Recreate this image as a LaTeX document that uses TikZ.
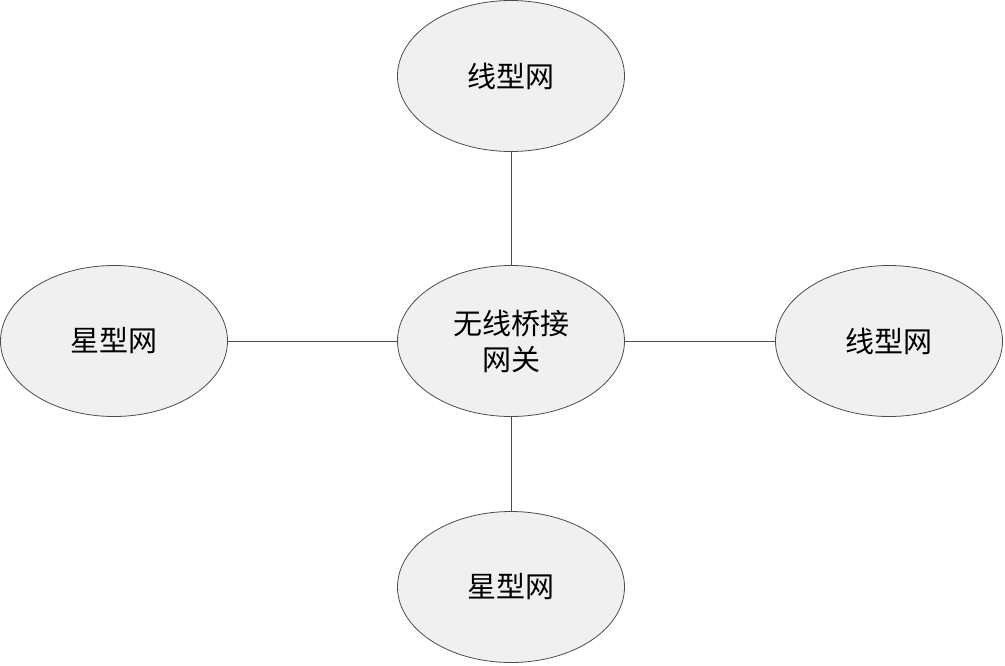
\documentclass[tikz,border=0pt]{standalone}
\usepackage{fontspec}
\newfontfamily\cjk{Noto Sans CJK SC}
\usetikzlibrary{shapes.geometric}
\begin{document}
\begin{tikzpicture}[x=1pt,y=-1pt,
  el/.style={ellipse,draw=black!70,line width=0.8pt,fill=black!6,minimum width=227pt,minimum height=151pt,inner sep=0pt,font=\cjk\fontsize{29}{36}\selectfont,align=center},
  ln/.style={draw=black!70,line width=0.8pt}]
\useasboundingbox (0,0) rectangle (1005,665);
\node[el] (c) at (511,341) {无线桥接\\网关};
\node[el] (t) at (511,76) {线型网};
\node[el] (l) at (114,341) {星型网};
\node[el] (r) at (889,341) {线型网};
\node[el] (b) at (511,587) {星型网};
\draw[ln] (c) -- (t);
\draw[ln] (c) -- (l);
\draw[ln] (c) -- (r);
\draw[ln] (c) -- (b);
\end{tikzpicture}
\end{document}
